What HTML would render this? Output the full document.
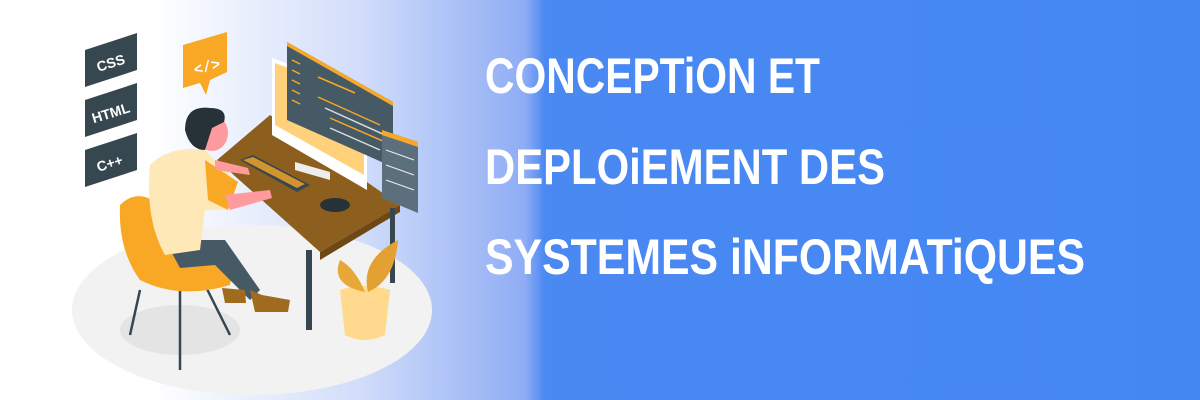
<!DOCTYPE html>
<html><head><style>
html,body{margin:0;padding:0}
body{width:1200px;height:400px;overflow:hidden;background:linear-gradient(to right,#fff 0,#fff 150px,#d2ddfa 360px,#8fadf5 525px,#4a88f2 545px,#4487f3 100%);position:relative}
svg{position:absolute;left:0;top:0}
</style></head><body>
<svg width="1200" height="400" viewBox="0 0 1200 400">
<!-- floor -->
<ellipse cx="252" cy="310" rx="180" ry="85" fill="#f2f2f2"/>
<ellipse cx="180" cy="330" rx="60" ry="25" fill="#e4e4e4"/>
<!-- tags -->
<g fill="#37474f">
<polygon points="85,50 137,33 137,70 85,87"/>
<polygon points="85,100 137,83 137,120 85,137"/>
<polygon points="85,150 137,133 137,170 85,187"/>
</g>
<g fill="#fff" font-family="Liberation Sans,sans-serif" font-weight="bold" font-size="14">
<text x="96" y="68" transform="rotate(-17 110 62)">CSS</text>
<text x="91" y="118" transform="rotate(-17 110 112)">HTML</text>
<text x="96" y="168" transform="rotate(-17 110 162)">C++</text>
</g>
<!-- bubble -->
<path d="M183,45 L227,32 L227,72 L210,80 L206,95 L200,83 L183,88 Z" fill="#f9a825"/>
<text x="193" y="72" fill="#fff" font-family="Liberation Mono,monospace" font-weight="bold" font-size="15" transform="rotate(-15 205 65)">&lt;/&gt;</text>
<!-- desk -->
<polygon points="217,160 270,115 400,205 320,252" fill="#8d5f1e"/>
<polygon points="320,252 400,205 400,212 320,260" fill="#6e4714"/>
<rect x="306" y="250" width="6" height="80" fill="#37474f"/>
<rect x="390" y="208" width="5" height="75" fill="#37474f"/>
<!-- monitor -->
<polygon points="272,58 367,92 367,190 272,135" fill="#fff"/>
<polygon points="275,63 364,96 364,175 275,125" fill="#ffd17a"/>
<polygon points="295,162 330,172 330,180 295,170" fill="#eee"/>
<!-- code window -->
<polygon points="287,42 393,102 393,167 287,120" fill="#455a64"/>
<polygon points="287,42 393,102 393,106 287,46" fill="#f9a825"/>
<g stroke="#f9a825" stroke-width="1.5">
<line x1="292" y1="60" x2="300" y2="64"/><line x1="292" y1="70" x2="300" y2="74"/><line x1="292" y1="80" x2="300" y2="84"/><line x1="292" y1="90" x2="300" y2="94"/><line x1="292" y1="100" x2="300" y2="104"/>
<line x1="318" y1="77" x2="355" y2="93"/><line x1="318" y1="97" x2="380" y2="125"/><line x1="330" y1="118" x2="385" y2="142"/>
</g>
<g stroke="#ddd" stroke-width="1.5"><line x1="325" y1="108" x2="385" y2="135"/><line x1="330" y1="128" x2="380" y2="150"/></g>
<!-- second window -->
<polygon points="382,130 418,142 418,213 382,198" fill="#5c6f7c"/>
<polygon points="382,130 418,142 418,147 382,135" fill="#f9a825"/>
<g stroke="#eee" stroke-width="1"><line x1="386" y1="150" x2="414" y2="160"/><line x1="386" y1="165" x2="414" y2="175"/><line x1="386" y1="180" x2="414" y2="190"/></g>
<!-- keyboard & mouse -->
<polygon points="240,160 253,155 310,185 297,192" fill="#37474f"/>
<polygon points="243,160 253,157 305,184 297,188" fill="#f9a825" opacity=".8"/>
<ellipse cx="335" cy="205" rx="15" ry="7" fill="#263238"/>
<!-- plant -->
<path d="M340,290 Q365,282 390,290 L385,335 Q365,345 345,335 Z" fill="#ffd98e"/>
<path d="M340,260 Q330,285 365,292 Q355,268 340,260 Z" fill="#e8a838"/>
<path d="M398,240 Q395,280 368,292 Q360,260 398,240 Z" fill="#e3a033"/>
<!-- chair -->
<g stroke="#37474f" stroke-width="2.5" fill="none"><line x1="140" y1="290" x2="130" y2="335"/><line x1="180" y1="290" x2="180" y2="370"/><line x1="205" y1="285" x2="230" y2="335"/></g>
<path d="M120,205 Q140,185 165,210 L205,250 L235,255 L230,285 Q180,300 140,280 Q118,250 120,205 Z" fill="#f9a825"/>
<!-- person -->
<path d="M165,240 L225,240 L260,290 L250,300 L215,265 L180,268 Z" fill="#455a64"/>
<path d="M150,165 Q170,145 205,150 L235,180 L225,210 L205,210 L200,250 L165,255 Q145,220 150,165 Z" fill="#ffe8b8"/>
<path d="M205,160 L238,182 L228,210 L208,200 Z" fill="#f9a825"/>
<path d="M225,195 L270,190 L272,198 L230,210 Z" fill="#ff9a9e"/>
<path d="M215,160 L248,168 L250,175 L215,170 Z" fill="#ff9a9e"/>
<ellipse cx="212" cy="133" rx="16" ry="18" fill="#ff9a9e"/>
<path d="M185,130 Q185,105 210,108 Q228,108 224,122 L212,128 L205,150 Q190,150 185,130 Z" fill="#263238"/>
<path d="M250,290 L262,295 L290,300 L288,312 L255,312 Z" fill="#a06b1f"/>
<path d="M222,288 L245,290 L246,303 L225,303 Z" fill="#a06b1f"/>
</svg>
<svg width="1200" height="400" viewBox="0 0 1200 400">
<g fill="#fff" font-family="Liberation Sans,sans-serif" font-weight="bold" font-size="50">
<text x="485" y="93" textLength="335" lengthAdjust="spacingAndGlyphs">CONCEPTiON ET</text>
<text x="485" y="184" textLength="400" lengthAdjust="spacingAndGlyphs">DEPLOiEMENT DES</text>
<text x="485" y="274" textLength="600" lengthAdjust="spacingAndGlyphs">SYSTEMES iNFORMATiQUES</text>
</g>
</svg>
</body></html>
